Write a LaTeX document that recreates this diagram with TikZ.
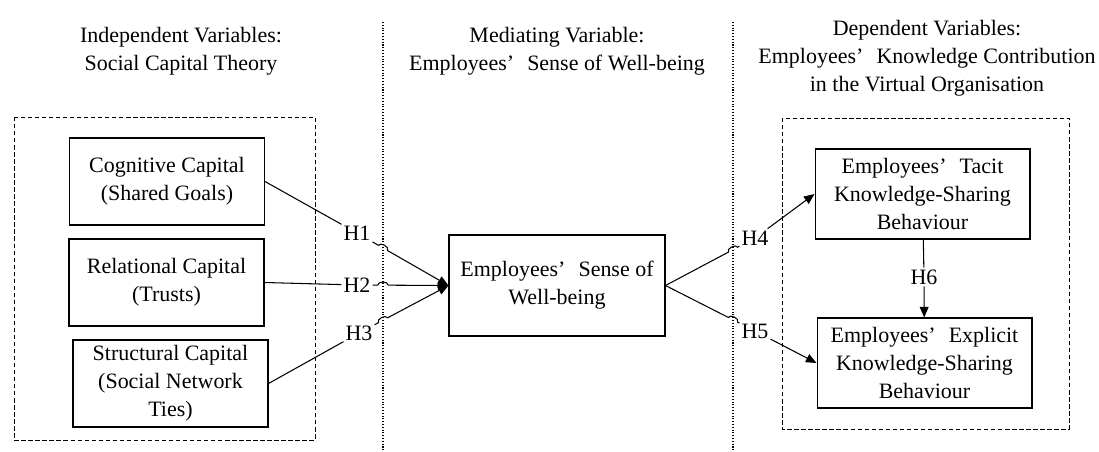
\documentclass[tikz,border=0pt]{standalone}
\usepackage{fontspec}
\setmainfont{Liberation Serif}
\usetikzlibrary{positioning,arrows.meta,calc,intersections}
\newcommand{\wideapos}{’\hspace{0.6em}}
\tikzset{
  var/.style={rectangle,draw,line width=0.6pt,align=center,inner sep=1pt,
              minimum width=3.9cm,minimum height=1.74cm},
  medvar/.style={var,minimum width=4.32cm,minimum height=2.02cm},
  depvar/.style={var,minimum width=4.3cm,minimum height=1.8cm},
  hyp/.style={inner sep=1pt},
  title/.style={align=center},
  grp/.style={line width=0.5pt,dash pattern=on 2.5pt off 1.5pt},
  divider/.style={line width=0.6pt,densely dotted},
  link/.style={line width=0.6pt},
  edge/.style={link,-{Triangle[length=6pt,width=5pt]}},
}

\begin{document}
\begin{tikzpicture}[x=0.02cm,y=-0.02cm,font=\fontsize{12.5}{16}\selectfont]
\useasboundingbox (0,0) rectangle (1099,451);

% Column titles
\node[title] (tind) at (181,51) {Independent Variables:\\Social Capital Theory};
\node[title] (tmed) at (557,51) {Mediating Variable:\\Employees\wideapos Sense of Well-being};
\node[title] (tdep) at (927,58) {Dependent Variables:\\Employees\wideapos Knowledge Contribution\\in the Virtual Organisation};

% Dividers
\coordinate (d1t) at (383,22);
\coordinate (d1b) at (383,451);
\coordinate (d2t) at (733,22);
\coordinate (d2b) at (733,451);
\draw[divider,name path=div1] (d1t) -- (d1b);
\draw[divider,name path=div2] (d2t) -- (d2b);

% Groups
\draw[grp] (14,117) rectangle (315,440);
\draw[grp] (782,118) rectangle (1069,429);

% Social capital (left)
\node[var] (cog) at (167,181.5) {Cognitive Capital\\(Shared Goals)};
\node[var] (rel) at (166.5,282.5) {Relational Capital\\(Trusts)};
\node[var] (str) at (170.5,383.5) {Structural Capital\\(Social Network\\Ties)};

% Mediator
\node[medvar] (med) at (557,285.5) {Employees\wideapos Sense of\\Well-being};

% Knowledge sharing (right)
\node[depvar] (tacit) at (922.5,194) {Employees\wideapos Tacit\\Knowledge-Sharing\\Behaviour};
\node[depvar] (expl) at (924.5,363) {Employees\wideapos Explicit\\Knowledge-Sharing\\Behaviour};

% Hypotheses
\node[hyp] (h1) at (357,233) {H1};
\node[hyp] (h2) at (357,285) {H2};
\node[hyp] (h3) at (359,333) {H3};
\node[hyp] (h4) at (755,238) {H4};
\node[hyp] (h5) at (755,331) {H5};
\node[hyp] (h6) at (924,277) {H6};

% Wiring: capitals -> mediator, hopping over the divider
\draw[link] (cog.east) -- (h1);
\draw[link] (rel.east) -- (h2);
\draw[link] (str.east) -- (h3);
\foreach \h in {h1,h2,h3}{
  \path[name path=ray] (\h) -- (med.west);
  \path[name intersections={of=ray and div1,by=j}];
  \draw[edge] (\h) -- ($(j)!3pt!(\h)$) to[bend left=90] ($(j)!-3pt!(\h)$) -- (med.west);
}

% Wiring: mediator -> behaviours
\foreach \h in {h4,h5}{
  \path[name path=ray] (med.east) -- (\h);
  \path[name intersections={of=ray and div2,by=j}];
  \draw[link] (med.east) -- ($(j)!3pt!(med.east)$) to[bend left=90] ($(j)!-3pt!(med.east)$) -- (\h);
}
\draw[edge] (h4) -- (tacit.west);
\draw[edge] (h5) -- (expl.west);
\draw[link] (tacit) -- (h6);
\draw[edge] (h6) -- (expl);

\end{tikzpicture}
\end{document}
